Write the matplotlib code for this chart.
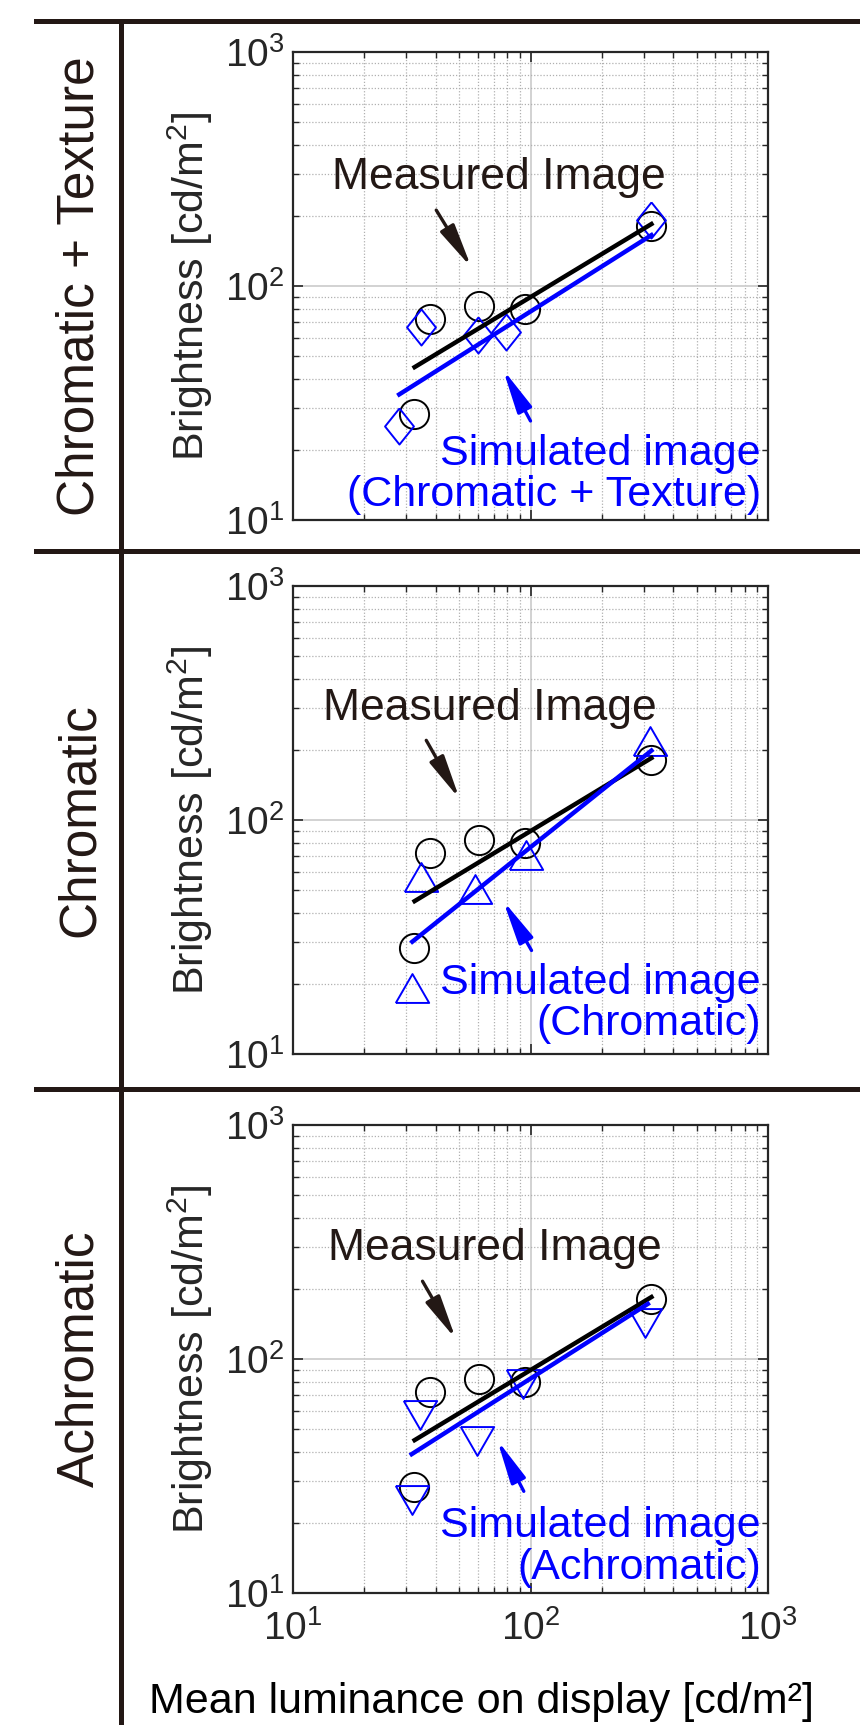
import matplotlib

matplotlib.use("Agg")
import matplotlib.pyplot as plt
from matplotlib.lines import Line2D
from matplotlib.patches import Rectangle

plt.rcParams["font.family"] = ["Liberation Sans", "DejaVu Sans"]
plt.rcParams["mathtext.fontset"] = "custom"
plt.rcParams["mathtext.rm"] = "Liberation Sans"
plt.rcParams["mathtext.it"] = "Liberation Sans:italic"
plt.rcParams["mathtext.bf"] = "Liberation Sans:bold"

# ---- data (cd/m^2) ----
lum_measured = [32.4, 37.6, 60.8, 95.0, 323.0]
bri_measured = [28.4, 72.0, 82.0, 79.5, 180.0]
fit_measured_x = [32.5, 323.0]
fit_measured_y = [45.0, 184.0]

# chromatic + texture
lum_ct = [28.0, 34.7, 60.1, 78.7, 323.0]
bri_ct = [25.1, 67.1, 61.5, 63.4, 192.0]
fit_ct_x = [28.0, 323.0]
fit_ct_y = [34.4, 165.0]

# chromatic
lum_c = [31.8, 34.5, 58.2, 96.0, 318.0]
bri_c = [19.1, 56.9, 50.8, 71.0, 218.0]
fit_c_x = [31.8, 323.0]
fit_c_y = [30.2, 198.0]

# achromatic
lum_a = [31.6, 34.2, 59.3, 92.7, 303.0]
bri_a = [24.9, 57.6, 44.7, 78.0, 142.0]
fit_a_x = [31.6, 312.0]
fit_a_y = [39.2, 172.0]

row_names = ["Chromatic + Texture", "Chromatic", "Achromatic"]
sim_names = ["(Chromatic + Texture)", "(Chromatic)", "(Achromatic)"]

BLACK = "#231815"
BLUE = "#0000ff"
AXC = "#262626"

diamond = [(0, 1), (0.8, 0), (0, -1), (-0.8, 0), (0, 1)]
tri_up = [(-1, -0.866), (1, -0.866), (0, 0.866), (-1, -0.866)]
tri_down = [(-1, 0.866), (1, 0.866), (0, -0.866), (-1, 0.866)]

panels = [
    (lum_ct, bri_ct, fit_ct_x, fit_ct_y, diamond, 26),
    (lum_c, bri_c, fit_c_x, fit_c_y, tri_up, 24),
    (lum_a, bri_a, fit_a_x, fit_a_y, tri_down, 24),
]

# annotation layout (data coords)
measured_txt = [(73.5, 290), (67.6, 300), (70.8, 297)]
black_arrow = [((40.1, 211), (56.4, 120)), ((36.4, 219), (50.3, 123)), ((35.1, 215), (48.5, 121.7))]
blue_arrow = [((100, 26.5), (76.6, 44)), ((101, 27.7), (76.7, 45.2)), ((93.7, 27.2), (72.4, 45.1))]
sim_txt_y = [0.097, 0.108, 0.098]

W, H = 860, 1725
fig = plt.figure(figsize=(W / 100, H / 100), dpi=100)

ax_tops = [52, 586, 1125]
ax_h = 468
arrow_style = "-|>,head_length=1.1,head_width=0.2"
for i, top in enumerate(ax_tops):
    ax = fig.add_axes([293 / W, (H - top - ax_h) / H, 475 / W, ax_h / H])
    lum, bri, fx, fy, mk, ms = panels[i]

    ax.plot(lum_measured, bri_measured, "o", ms=21, mfc="none", mec="black", mew=1.4, zorder=3)
    ax.plot(fit_measured_x, fit_measured_y, "-", color="black", lw=3.2, zorder=4)
    ax.plot(lum, bri, linestyle="none", marker=mk, ms=ms, mfc="none", mec=BLUE, mew=1.4, zorder=3)
    ax.plot(fx, fy, "-", color=BLUE, lw=3.2, zorder=4)

    ax.set_xscale("log")
    ax.set_yscale("log")
    ax.set_xlim(10, 1000)
    ax.set_ylim(10, 1000)

    ax.grid(which="major", color="#cfcfcf", lw=1.3, ls="-")
    ax.grid(which="minor", color="#b0b0b0", lw=0.9, ls=(0, (1, 1.5)))
    ax.set_axisbelow(True)
    ax.tick_params(which="both", direction="in", top=True, right=True, colors=AXC,
                   labelsize=28)
    ax.tick_params(axis="y", which="both", pad=6)
    ax.tick_params(axis="x", which="both", pad=12)
    ax.tick_params(which="major", length=7, width=1.2)
    ax.tick_params(which="minor", length=4, width=1.0)
    for s in ax.spines.values():
        s.set_linewidth(1.6)
        s.set_color(AXC)
    if i < 2:
        ax.tick_params(axis="x", which="both", labelbottom=False)
    else:
        ax.set_xlabel("Mean luminance on display [cd/m²]", fontsize=31, color="black", va="center")
        ax.xaxis.set_label_coords(0.396, -0.233)

    ax.set_ylabel("Brightness [cd/m$^2$]", fontsize=31, color=AXC, va="center")
    ax.yaxis.set_label_coords(-0.217, 0.5)

    ax.text(*measured_txt[i], "Measured Image", fontsize=32, color=BLACK,
            ha="center", va="center", zorder=6)
    t, h = black_arrow[i]
    ax.annotate("", xy=h, xytext=t, zorder=6,
                arrowprops=dict(arrowstyle=arrow_style, lw=2.4, color=BLACK,
                                mutation_scale=24, shrinkA=0, shrinkB=0))
    t, h = blue_arrow[i]
    ax.annotate("", xy=h, xytext=t, zorder=6,
                arrowprops=dict(arrowstyle=arrow_style, lw=2.4, color=BLUE,
                                mutation_scale=24, shrinkA=0, shrinkB=0))
    ax.text(0.985, sim_txt_y[i], "Simulated image\n" + sim_names[i], transform=ax.transAxes,
            fontsize=31, color=BLUE, ha="right", va="center", multialignment="right",
            linespacing=1.05, zorder=6)

    # row label
    fig.text(80 / W, 1 - (top + ax_h / 2) / H, row_names[i], rotation=90, fontsize=37,
             color=BLACK, ha="center", va="center")

# clipped strips below the upper two panels' bottom tick labels
for y0, y1 in [(540, 549), (1073, 1087)]:
    fig.add_artist(Rectangle((185 / W, 1 - y1 / H), 110 / W, (y1 - y0) / H,
                             transform=fig.transFigure, color="white", zorder=5))

# table rules
for y in [21, 551, 1089]:
    fig.add_artist(Line2D([36 / W, 1], [1 - y / H, 1 - y / H], transform=fig.transFigure,
                          color=BLACK, lw=3.6, zorder=6))
fig.add_artist(Line2D([121 / W, 121 / W], [1 - 21 / H, 0], transform=fig.transFigure,
                      color=BLACK, lw=3.6, zorder=6))

fig.savefig("out.png", dpi=100)
